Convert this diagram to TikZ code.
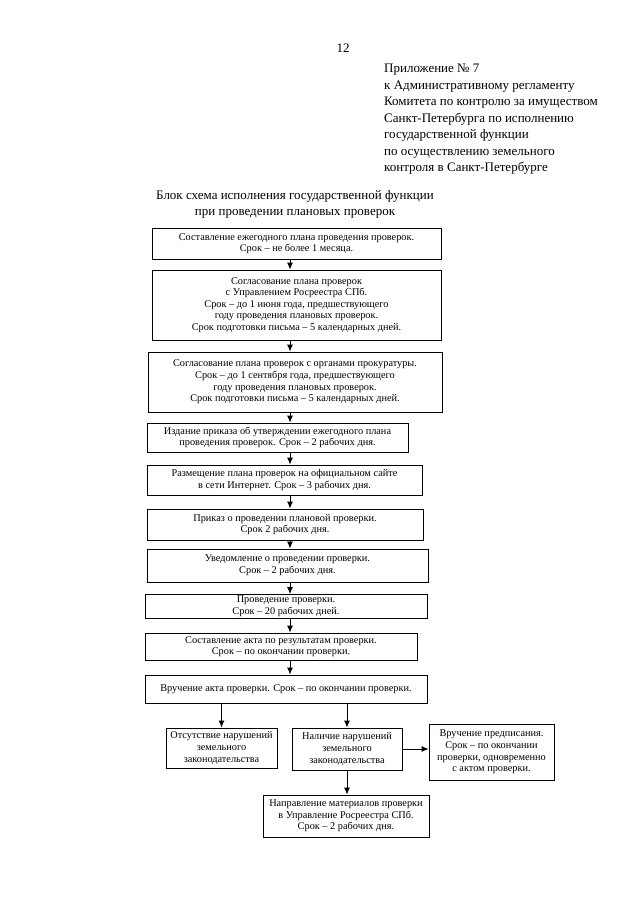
\documentclass[tikz,border=0pt]{standalone}
\usepackage{fontspec}
\setmainfont{Liberation Serif}
\usetikzlibrary{arrows.meta}

\tikzset{
  blok/.style={draw, line width=0.9pt, align=center, inner sep=0.5pt,
    font=\fontsize{10.3}{11.6}\selectfont},
  strelka/.style={line width=0.9pt, -{Latex[length=7pt,width=6pt]}},
}

\begin{document}
\begin{tikzpicture}[x=1pt,y=1pt,yscale=-1,xscale=1]
\useasboundingbox (0,0) rectangle (640,905);

% Page number and header
\node (nomer) at (343,48) [font=\fontsize{13}{15}\selectfont] {12};
\node (shapka) at (384,64) [anchor=north west, inner sep=0pt, align=left,
  font=\fontsize{13}{16.5}\selectfont]
  {Приложение № 7\\
   к Административному регламенту\\
   Комитета по контролю за имуществом\\
   Санкт-Петербурга по исполнению\\
   государственной функции\\
   по осуществлению земельного\\
   контроля в Санкт-Петербурге};

% Title
\node (zagolovok) at (295,204) [align=center, inner sep=0pt,
  font=\fontsize{13}{16}\selectfont]
  {Блок схема исполнения государственной функции\\
   при проведении плановых проверок};

% Main chain of steps
\node (b1) at (296.5,243.5) [blok, minimum width=289, minimum height=31]
  {Составление ежегодного плана проведения проверок.\\
   Срок – не более 1 месяца.};
\node (b2) at (296.5,305) [blok, minimum width=289, minimum height=70]
  {Согласование плана проверок\\
   с Управлением Росреестра СПб.\\
   Срок – до 1 июня года, предшествующего\\
   году проведения плановых проверок.\\
   Срок подготовки письма – 5 календарных дней.};
\node (b3) at (295,382) [blok, minimum width=294, minimum height=60]
  {Согласование плана проверок с органами прокуратуры.\\
   Срок – до 1 сентября года, предшествующего\\
   году проведения плановых проверок.\\
   Срок подготовки письма – 5 календарных дней.};
\node (b4) at (277.5,437.5) [blok, minimum width=261, minimum height=29]
  {Издание приказа об утверждении ежегодного плана\\
   проведения проверок. Срок – 2 рабочих дня.};
\node (b5) at (284.5,480) [blok, minimum width=275, minimum height=30]
  {Размещение плана проверок на официальном сайте\\
   в сети Интернет. Срок – 3 рабочих дня.};
\node (b6) at (285,524.5) [blok, minimum width=276, minimum height=31]
  {Приказ о проведении плановой проверки.\\
   Срок 2 рабочих дня.};
\node (b7) at (287.5,565.5) [blok, minimum width=281, minimum height=33]
  {Уведомление о проведении проверки.\\
   Срок – 2 рабочих дня.};
\node (b8) at (286,606.5) [blok, minimum width=282, minimum height=24]
  {Проведение проверки.\\
   Срок – 20 рабочих дней.};
\node (b9) at (281,646.5) [blok, minimum width=272, minimum height=27]
  {Составление акта по результатам проверки.\\
   Срок – по окончании проверки.};
\node (b10) at (286,689) [blok, minimum width=282, minimum height=28]
  {Вручение акта проверки. Срок – по окончании проверки.};

% Results
\node (b11) at (221.5,748) [blok, minimum width=111, minimum height=40]
  {Отсутствие нарушений\\ земельного\\ законодательства};
\node (b12) at (347,749) [blok, minimum width=110, minimum height=42]
  {Наличие нарушений\\ земельного\\ законодательства};
\node (b13) at (491.5,752) [blok, minimum width=125, minimum height=56]
  {Вручение предписания.\\
   Срок – по окончании\\
   проверки, одновременно\\
   с актом проверки.};
\node (b14) at (346,816) [blok, minimum width=166, minimum height=42]
  {Направление материалов проверки\\
   в Управление Росреестра СПб.\\
   Срок – 2 рабочих дня.};

% Arrows
\coordinate (os) at (290,0);
\foreach \a/\b in {b1/b2,b2/b3,b3/b4,b4/b5,b5/b6,b6/b7,b7/b8,b8/b9,b9/b10}
  \draw[strelka] (\a.south -| os) -- (\b.north -| os);
\draw[strelka] (b10.south -| b11.north) -- (b11.north);
\draw[strelka] (b10.south -| b12.north) -- (b12.north);
\draw[strelka] (b12.east) -- (b12.east -| b13.west);
\draw[strelka] (b12.south) -- (b12.south |- b14.north);

\end{tikzpicture}
\end{document}
